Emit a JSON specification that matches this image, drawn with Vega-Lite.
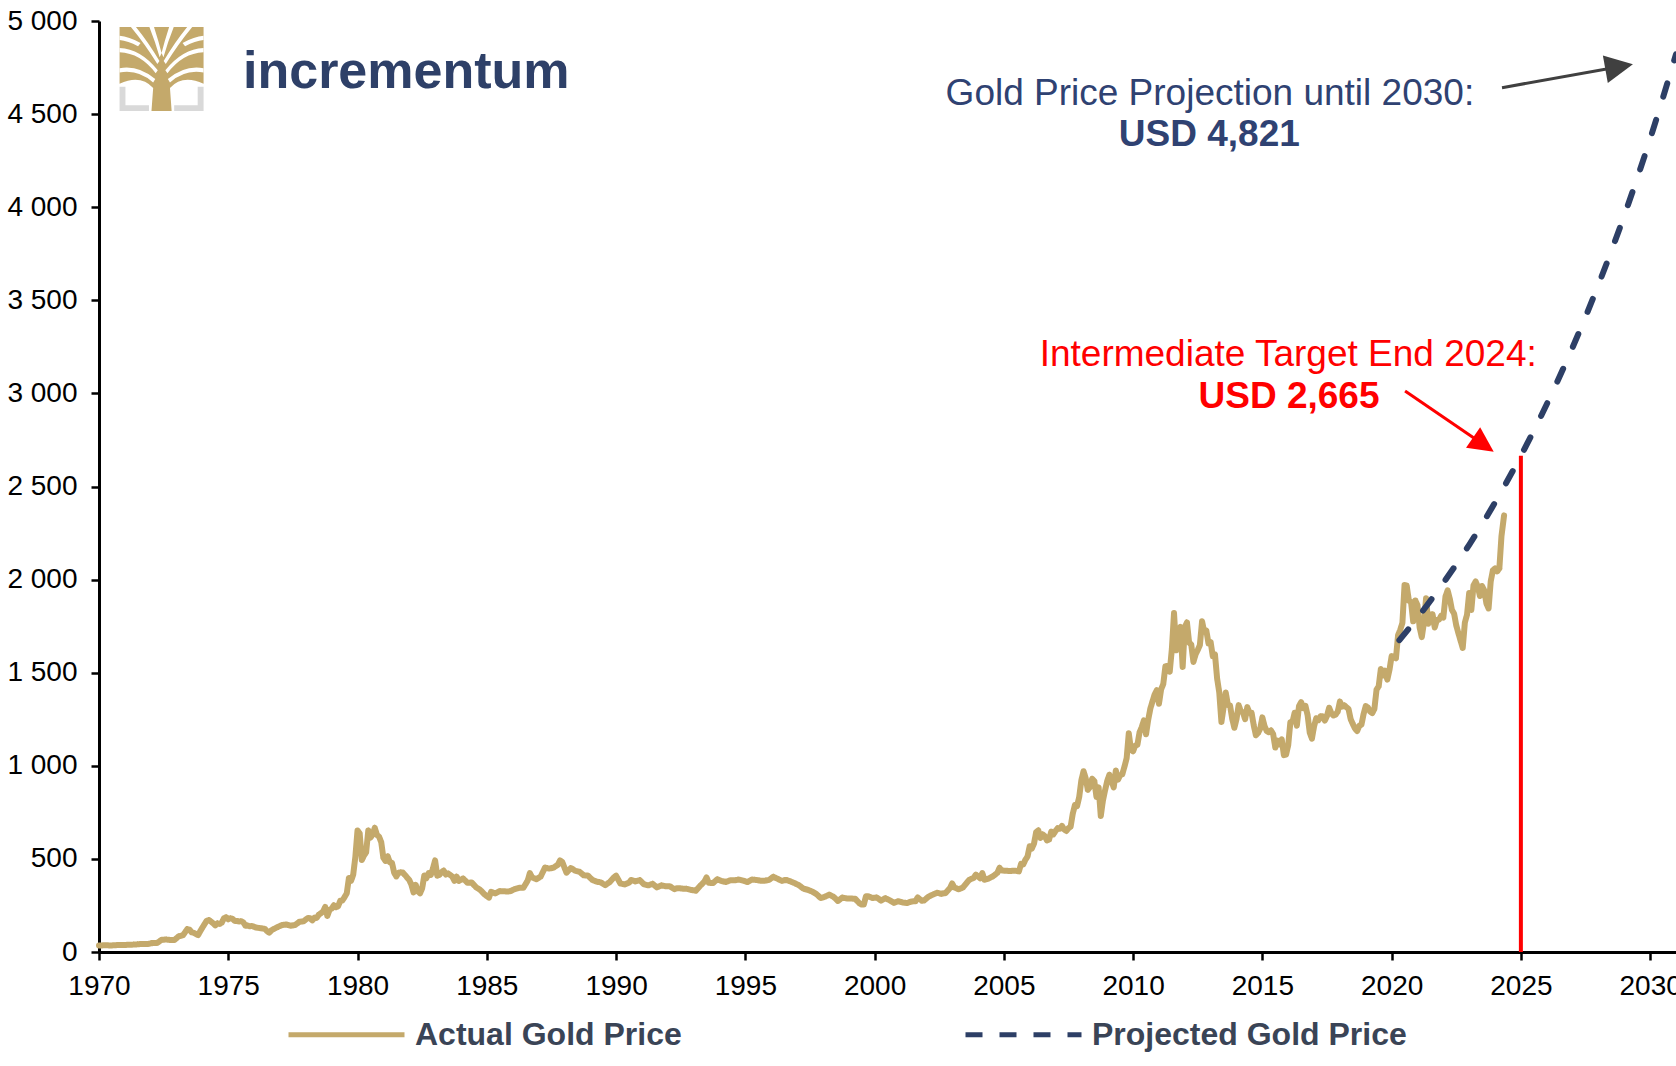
{
  "$schema": "https://vega.github.io/schema/vega-lite/v6.json",
  "width": 1577,
  "height": 931,
  "autosize": {"type": "none"},
  "padding": {"left": 99, "top": 21, "right": 0, "bottom": 114},
  "background": "white",
  "config": {
    "view": {"stroke": null},
    "font": "Liberation Sans",
    "axis": {
      "domainColor": "#000000",
      "domainWidth": 3,
      "tickColor": "#000000",
      "tickWidth": 2.5,
      "tickSize": 8,
      "labelFont": "Liberation Sans",
      "labelFontSize": 28,
      "labelColor": "#000000",
      "grid": false,
      "title": null
    }
  },
  "data": {"values": [{}]},
  "layer": [
    {
      "data": {"values": [
        {"t":1970,"p":35.2},{"t":1970.25,"p":35.9},{"t":1970.5,"p":35.3},{"t":1970.75,"p":37.5},{"t":1970.917,"p":37.4},
        {"t":1971.167,"p":38.9},{"t":1971.417,"p":40.1},{"t":1971.583,"p":42.7},{"t":1971.75,"p":42.5},{"t":1971.917,"p":43.6},
        {"t":1972.083,"p":48.3},{"t":1972.25,"p":49.0},{"t":1972.417,"p":65.1},{"t":1972.583,"p":67.0},{"t":1972.75,"p":64.9},{"t":1972.917,"p":64.9},
        {"t":1973.083,"p":84},{"t":1973.25,"p":90.5},{"t":1973.417,"p":123},{"t":1973.5,"p":120},{"t":1973.583,"p":106},{"t":1973.667,"p":103},{"t":1973.833,"p":90.8},{"t":1973.917,"p":112},
        {"t":1974.083,"p":150},{"t":1974.167,"p":168},{"t":1974.25,"p":172},{"t":1974.333,"p":163},{"t":1974.417,"p":154},{"t":1974.5,"p":143},{"t":1974.583,"p":154},{"t":1974.667,"p":151},{"t":1974.75,"p":158},{"t":1974.833,"p":181},{"t":1974.917,"p":186.5},
        {"t":1975,"p":176},{"t":1975.083,"p":181},{"t":1975.167,"p":178},{"t":1975.25,"p":167},{"t":1975.333,"p":167},{"t":1975.417,"p":164},{"t":1975.5,"p":165},{"t":1975.583,"p":159},{"t":1975.667,"p":141},{"t":1975.75,"p":142},{"t":1975.833,"p":138},{"t":1975.917,"p":140},
        {"t":1976.083,"p":131},{"t":1976.25,"p":128},{"t":1976.417,"p":124},{"t":1976.5,"p":112},{"t":1976.583,"p":104},{"t":1976.667,"p":116},{"t":1976.75,"p":123},{"t":1976.917,"p":134.5},
        {"t":1977.083,"p":145},{"t":1977.25,"p":148},{"t":1977.417,"p":141},{"t":1977.583,"p":145},{"t":1977.75,"p":162},{"t":1977.917,"p":165},
        {"t":1978,"p":175},{"t":1978.083,"p":183},{"t":1978.167,"p":181},{"t":1978.25,"p":170},{"t":1978.333,"p":184},{"t":1978.417,"p":183},{"t":1978.5,"p":200},{"t":1978.583,"p":208},{"t":1978.667,"p":217},{"t":1978.75,"p":242},{"t":1978.833,"p":194},{"t":1978.917,"p":226},
        {"t":1979,"p":233},{"t":1979.083,"p":251},{"t":1979.167,"p":240},{"t":1979.25,"p":246},{"t":1979.333,"p":275},{"t":1979.417,"p":277},{"t":1979.5,"p":295},{"t":1979.583,"p":315},{"t":1979.667,"p":397},{"t":1979.75,"p":382},{"t":1979.833,"p":415},{"t":1979.917,"p":512},
        {"t":1980,"p":653},{"t":1980.083,"p":637},{"t":1980.167,"p":494},{"t":1980.25,"p":518},{"t":1980.333,"p":535},{"t":1980.417,"p":653},{"t":1980.5,"p":614},{"t":1980.583,"p":631},{"t":1980.667,"p":667},{"t":1980.75,"p":629},{"t":1980.833,"p":619},{"t":1980.917,"p":590},
        {"t":1981,"p":506},{"t":1981.083,"p":489},{"t":1981.167,"p":514},{"t":1981.25,"p":482},{"t":1981.333,"p":479},{"t":1981.417,"p":426},{"t":1981.5,"p":406},{"t":1981.583,"p":425},{"t":1981.667,"p":428},{"t":1981.75,"p":427},{"t":1981.833,"p":414},{"t":1981.917,"p":400},
        {"t":1982,"p":387},{"t":1982.083,"p":362},{"t":1982.167,"p":320},{"t":1982.25,"p":361},{"t":1982.333,"p":326},{"t":1982.417,"p":315},{"t":1982.5,"p":342},{"t":1982.583,"p":411},{"t":1982.667,"p":397},{"t":1982.75,"p":423},{"t":1982.833,"p":414},{"t":1982.917,"p":448},
        {"t":1983,"p":492},{"t":1983.083,"p":410},{"t":1983.167,"p":414},{"t":1983.25,"p":429},{"t":1983.333,"p":437},{"t":1983.417,"p":416},{"t":1983.5,"p":422},{"t":1983.583,"p":414},{"t":1983.667,"p":405},{"t":1983.75,"p":382},{"t":1983.833,"p":405},{"t":1983.917,"p":382},
        {"t":1984.083,"p":395},{"t":1984.25,"p":372},{"t":1984.417,"p":373},{"t":1984.583,"p":348},{"t":1984.75,"p":333},{"t":1984.917,"p":309},
        {"t":1985.083,"p":292},{"t":1985.167,"p":323},{"t":1985.333,"p":315},{"t":1985.5,"p":327},{"t":1985.667,"p":326},{"t":1985.833,"p":325},{"t":1985.917,"p":327},
        {"t":1986.083,"p":338},{"t":1986.25,"p":345},{"t":1986.417,"p":345},{"t":1986.583,"p":384},{"t":1986.667,"p":424},{"t":1986.75,"p":401},{"t":1986.917,"p":391},
        {"t":1987.083,"p":405},{"t":1987.25,"p":453},{"t":1987.417,"p":448},{"t":1987.583,"p":453},{"t":1987.75,"p":469},{"t":1987.833,"p":492},{"t":1987.917,"p":484},
        {"t":1988.083,"p":426},{"t":1988.25,"p":451},{"t":1988.417,"p":437},{"t":1988.583,"p":431},{"t":1988.75,"p":412},{"t":1988.917,"p":410},
        {"t":1989.083,"p":387},{"t":1989.25,"p":378},{"t":1989.417,"p":373},{"t":1989.583,"p":359},{"t":1989.75,"p":375},{"t":1989.917,"p":401},
        {"t":1990,"p":410},{"t":1990.167,"p":368},{"t":1990.333,"p":363},{"t":1990.5,"p":372},{"t":1990.583,"p":387},{"t":1990.75,"p":379},{"t":1990.917,"p":386},
        {"t":1991.083,"p":363},{"t":1991.25,"p":358},{"t":1991.417,"p":366},{"t":1991.583,"p":347},{"t":1991.75,"p":358},{"t":1991.917,"p":353},
        {"t":1992.083,"p":353},{"t":1992.25,"p":338},{"t":1992.417,"p":343},{"t":1992.583,"p":340},{"t":1992.75,"p":339},{"t":1992.917,"p":333},
        {"t":1993.083,"p":329},{"t":1993.25,"p":355},{"t":1993.417,"p":378},{"t":1993.5,"p":401},{"t":1993.583,"p":372},{"t":1993.75,"p":370},{"t":1993.917,"p":391},
        {"t":1994.083,"p":381},{"t":1994.25,"p":376},{"t":1994.417,"p":385},{"t":1994.583,"p":385},{"t":1994.75,"p":389},{"t":1994.917,"p":383},
        {"t":1995.083,"p":376},{"t":1995.25,"p":389},{"t":1995.417,"p":387},{"t":1995.583,"p":383},{"t":1995.75,"p":383},{"t":1995.917,"p":387},
        {"t":1996.083,"p":404},{"t":1996.25,"p":393},{"t":1996.417,"p":382},{"t":1996.583,"p":387},{"t":1996.75,"p":379},{"t":1996.917,"p":369},
        {"t":1997.083,"p":358},{"t":1997.25,"p":340},{"t":1997.417,"p":334},{"t":1997.583,"p":325},{"t":1997.75,"p":311},{"t":1997.917,"p":290},
        {"t":1998.083,"p":297},{"t":1998.25,"p":308},{"t":1998.417,"p":296},{"t":1998.583,"p":274},{"t":1998.75,"p":292},{"t":1998.917,"p":288},
        {"t":1999.083,"p":287},{"t":1999.25,"p":286},{"t":1999.417,"p":261},{"t":1999.5,"p":255},{"t":1999.583,"p":255},{"t":1999.667,"p":299},{"t":1999.75,"p":300},{"t":1999.917,"p":290},
        {"t":2000.083,"p":293},{"t":2000.25,"p":276},{"t":2000.417,"p":289},{"t":2000.583,"p":278},{"t":2000.75,"p":264},{"t":2000.917,"p":273},
        {"t":2001.083,"p":266},{"t":2001.25,"p":263},{"t":2001.417,"p":271},{"t":2001.583,"p":273},{"t":2001.667,"p":293},{"t":2001.833,"p":275},{"t":2001.917,"p":277},
        {"t":2002.083,"p":297},{"t":2002.25,"p":308},{"t":2002.417,"p":318},{"t":2002.583,"p":312},{"t":2002.75,"p":317},{"t":2002.917,"p":343},
        {"t":2003,"p":368},{"t":2003.083,"p":347},{"t":2003.25,"p":337},{"t":2003.417,"p":346},{"t":2003.583,"p":375},{"t":2003.667,"p":388},{"t":2003.833,"p":398},{"t":2003.917,"p":416},
        {"t":2004.083,"p":396},{"t":2004.167,"p":424},{"t":2004.25,"p":388},{"t":2004.417,"p":395},{"t":2004.583,"p":407},{"t":2004.75,"p":425},{"t":2004.833,"p":452},{"t":2004.917,"p":438},
        {"t":2005.083,"p":436},{"t":2005.25,"p":435},{"t":2005.417,"p":437},{"t":2005.583,"p":433},{"t":2005.667,"p":473},{"t":2005.75,"p":470},{"t":2005.833,"p":495},{"t":2005.917,"p":513},
        {"t":2006,"p":568},{"t":2006.083,"p":556},{"t":2006.167,"p":582},{"t":2006.25,"p":644},{"t":2006.333,"p":653},{"t":2006.417,"p":613},{"t":2006.5,"p":632},{"t":2006.583,"p":623},{"t":2006.667,"p":599},{"t":2006.75,"p":604},{"t":2006.833,"p":646},{"t":2006.917,"p":632},
        {"t":2007,"p":650},{"t":2007.083,"p":665},{"t":2007.167,"p":662},{"t":2007.25,"p":677},{"t":2007.333,"p":659},{"t":2007.417,"p":650},{"t":2007.5,"p":665},{"t":2007.583,"p":673},{"t":2007.667,"p":743},{"t":2007.75,"p":789},{"t":2007.833,"p":783},{"t":2007.917,"p":834},
        {"t":2008,"p":923},{"t":2008.083,"p":971},{"t":2008.167,"p":933},{"t":2008.25,"p":871},{"t":2008.333,"p":886},{"t":2008.417,"p":930},{"t":2008.5,"p":918},{"t":2008.583,"p":833},{"t":2008.667,"p":884},{"t":2008.75,"p":730},{"t":2008.833,"p":814},{"t":2008.917,"p":869},
        {"t":2009,"p":919},{"t":2009.083,"p":952},{"t":2009.167,"p":916},{"t":2009.25,"p":884},{"t":2009.333,"p":975},{"t":2009.417,"p":926},{"t":2009.5,"p":949},{"t":2009.583,"p":955},{"t":2009.667,"p":996},{"t":2009.75,"p":1040},{"t":2009.833,"p":1175},{"t":2009.917,"p":1087},
        {"t":2010,"p":1078},{"t":2010.083,"p":1109},{"t":2010.167,"p":1113},{"t":2010.25,"p":1180},{"t":2010.333,"p":1207},{"t":2010.417,"p":1244},{"t":2010.5,"p":1169},{"t":2010.583,"p":1246},{"t":2010.667,"p":1307},{"t":2010.75,"p":1346},{"t":2010.833,"p":1383},{"t":2010.917,"p":1406},
        {"t":2011,"p":1333},{"t":2011.083,"p":1410},{"t":2011.167,"p":1439},{"t":2011.25,"p":1535},{"t":2011.333,"p":1536},{"t":2011.417,"p":1505},{"t":2011.5,"p":1628},{"t":2011.583,"p":1820},{"t":2011.667,"p":1620},{"t":2011.75,"p":1722},{"t":2011.833,"p":1746},{"t":2011.917,"p":1531},
        {"t":2012,"p":1744},{"t":2012.083,"p":1770},{"t":2012.167,"p":1662},{"t":2012.25,"p":1651},{"t":2012.333,"p":1558},{"t":2012.417,"p":1598},{"t":2012.5,"p":1622},{"t":2012.583,"p":1648},{"t":2012.667,"p":1776},{"t":2012.75,"p":1720},{"t":2012.833,"p":1726},{"t":2012.917,"p":1657},
        {"t":2013,"p":1664},{"t":2013.083,"p":1588},{"t":2013.167,"p":1598},{"t":2013.25,"p":1469},{"t":2013.333,"p":1394},{"t":2013.417,"p":1235},{"t":2013.5,"p":1314},{"t":2013.583,"p":1394},{"t":2013.667,"p":1326},{"t":2013.75,"p":1324},{"t":2013.833,"p":1253},{"t":2013.917,"p":1204},
        {"t":2014,"p":1251},{"t":2014.083,"p":1326},{"t":2014.167,"p":1292},{"t":2014.25,"p":1288},{"t":2014.333,"p":1250},{"t":2014.417,"p":1315},{"t":2014.5,"p":1285},{"t":2014.583,"p":1285},{"t":2014.667,"p":1217},{"t":2014.75,"p":1164},{"t":2014.833,"p":1176},{"t":2014.917,"p":1199},
        {"t":2015,"p":1260},{"t":2015.083,"p":1214},{"t":2015.167,"p":1187},{"t":2015.25,"p":1180},{"t":2015.333,"p":1190},{"t":2015.417,"p":1171},{"t":2015.5,"p":1098},{"t":2015.583,"p":1135},{"t":2015.667,"p":1115},{"t":2015.75,"p":1142},{"t":2015.833,"p":1057},{"t":2015.917,"p":1060},
        {"t":2016,"p":1111},{"t":2016.083,"p":1234},{"t":2016.167,"p":1237},{"t":2016.25,"p":1285},{"t":2016.333,"p":1215},{"t":2016.417,"p":1320},{"t":2016.5,"p":1342},{"t":2016.583,"p":1309},{"t":2016.667,"p":1322},{"t":2016.75,"p":1272},{"t":2016.833,"p":1178},{"t":2016.917,"p":1146},
        {"t":2017,"p":1212},{"t":2017.083,"p":1255},{"t":2017.167,"p":1245},{"t":2017.25,"p":1266},{"t":2017.333,"p":1266},{"t":2017.417,"p":1243},{"t":2017.5,"p":1268},{"t":2017.583,"p":1312},{"t":2017.667,"p":1283},{"t":2017.75,"p":1270},{"t":2017.833,"p":1275},{"t":2017.917,"p":1291},
        {"t":2018,"p":1345},{"t":2018.083,"p":1318},{"t":2018.167,"p":1325},{"t":2018.25,"p":1315},{"t":2018.333,"p":1305},{"t":2018.417,"p":1250},{"t":2018.5,"p":1224},{"t":2018.583,"p":1200},{"t":2018.667,"p":1187},{"t":2018.75,"p":1215},{"t":2018.833,"p":1221},{"t":2018.917,"p":1279},
        {"t":2019,"p":1321},{"t":2019.083,"p":1313},{"t":2019.167,"p":1292},{"t":2019.25,"p":1283},{"t":2019.333,"p":1305},{"t":2019.417,"p":1409},{"t":2019.5,"p":1427},{"t":2019.583,"p":1520},{"t":2019.667,"p":1485},{"t":2019.75,"p":1511},{"t":2019.833,"p":1463},{"t":2019.917,"p":1515},
        {"t":2020,"p":1589},{"t":2020.083,"p":1585},{"t":2020.167,"p":1577},{"t":2020.25,"p":1702},{"t":2020.333,"p":1730},{"t":2020.417,"p":1768},{"t":2020.5,"p":1971},{"t":2020.583,"p":1968},{"t":2020.667,"p":1887},{"t":2020.75,"p":1880},{"t":2020.833,"p":1776},{"t":2020.917,"p":1888},
        {"t":2021,"p":1863},{"t":2021.083,"p":1743},{"t":2021.167,"p":1691},{"t":2021.25,"p":1768},{"t":2021.333,"p":1900},{"t":2021.417,"p":1763},{"t":2021.5,"p":1812},{"t":2021.583,"p":1814},{"t":2021.667,"p":1743},{"t":2021.75,"p":1783},{"t":2021.833,"p":1785},{"t":2021.917,"p":1806},
        {"t":2022,"p":1796},{"t":2022.083,"p":1909},{"t":2022.167,"p":1942},{"t":2022.25,"p":1897},{"t":2022.333,"p":1837},{"t":2022.417,"p":1817},{"t":2022.5,"p":1754},{"t":2022.583,"p":1712},{"t":2022.667,"p":1672},{"t":2022.75,"p":1633},{"t":2022.833,"p":1769},{"t":2022.917,"p":1812},
        {"t":2023,"p":1928},{"t":2023.083,"p":1837},{"t":2023.167,"p":1969},{"t":2023.25,"p":1990},{"t":2023.333,"p":1962},{"t":2023.417,"p":1912},{"t":2023.5,"p":1965},{"t":2023.583,"p":1942},{"t":2023.667,"p":1871},{"t":2023.75,"p":1845},{"t":2023.833,"p":1990},{"t":2023.917,"p":2050},
        {"t":2024,"p":2060},{"t":2024.083,"p":2044},{"t":2024.167,"p":2060},{"t":2024.25,"p":2235},{"t":2024.35,"p":2345}
      ]},
      "mark": {"type": "line", "strokeWidth": 6, "strokeJoin": "round", "strokeCap": "round"},
      "encoding": {
        "x": {
          "field": "t", "type": "quantitative",
          "scale": {"domain": [1970, 2031], "nice": false, "zero": false},
          "axis": {"values": [1970,1975,1980,1985,1990,1995,2000,2005,2010,2015,2020,2025,2030], "format": "d", "labelPadding": 12, "labelFlush": false, "labelOverlap": false, "title": null}
        },
        "y": {
          "field": "p", "type": "quantitative",
          "scale": {"domain": [0, 5000], "nice": false, "zero": true},
          "axis": {"values": [0,500,1000,1500,2000,2500,3000,3500,4000,4500,5000], "labelExpr": "replace(format(datum.value, ','), ',', ' ')", "labelPadding": 14, "title": null}
        },
        "color": {
          "datum": "Actual Gold Price", "type": "nominal",
          "scale": {"domain": ["Actual Gold Price", "Projected Gold Price"], "range": ["#C4A96B", "#2D3F66"]},
          "legend": {"title": null, "orient": "none", "legendX": 187, "legendY": 953, "direction": "horizontal", "columns": 2, "gridAlign": "each", "columnPadding": 273, "symbolType": "stroke", "symbolSize": 13456, "symbolStrokeWidth": 5, "labelFont": "Liberation Sans", "labelFontWeight": "bold", "labelFontSize": 32, "labelColor": "#3A4456", "labelOffset": 8, "labelLimit": 600, "padding": 0}
        },
        "strokeDash": {
          "datum": "Actual Gold Price", "type": "nominal",
          "scale": {"domain": ["Actual Gold Price", "Projected Gold Price"], "range": [[1, 0], [17, 17]]},
          "legend": {"title": null, "orient": "none", "legendX": 187, "legendY": 953, "direction": "horizontal", "columns": 2, "gridAlign": "each", "columnPadding": 273, "symbolType": "stroke", "symbolSize": 13456, "symbolStrokeWidth": 5, "labelFont": "Liberation Sans", "labelFontWeight": "bold", "labelFontSize": 32, "labelColor": "#3A4456", "labelOffset": 8, "labelLimit": 600, "padding": 0}
        }
      }
    },
    {
      "data": {"values": [
        {"t":2020.3,"p":1675},{"t":2021,"p":1795},{"t":2022,"p":1982},{"t":2023,"p":2187},{"t":2024,"p":2414},{"t":2025,"p":2665},
        {"t":2026,"p":2942},{"t":2027,"p":3247},{"t":2028,"p":3584},{"t":2029,"p":3956},{"t":2030,"p":4367},{"t":2031,"p":4821}
      ]},
      "mark": {"type": "line", "strokeWidth": 6, "strokeCap": "round", "strokeDash": [14, 24], "interpolate": "monotone"},
      "encoding": {
        "x": {"field": "t", "type": "quantitative"},
        "y": {"field": "p", "type": "quantitative"},
        "color": {"datum": "Projected Gold Price", "type": "nominal", "legend": null}
      }
    },
    {
      "mark": {"type": "point", "shape": "M-1,0.42L-0.86,0.42L-0.86,0.86L-0.3,0.86L-0.3,1L-1,1Z M1,0.42L1,1L0.3,1L0.3,0.86L0.86,0.86L0.86,0.42Z", "size": 7056, "filled": true, "fill": "#D9D9D9", "strokeWidth": 0, "opacity": 1},
      "encoding": {
        "x": {"datum": 1972.42, "type": "quantitative"},
        "y": {"datum": 4742, "type": "quantitative"}
      }
    },
    {
      "mark": {"type": "point", "shape": "M-1,-1L1,-1L1,0.35Q0.5,0.12 0.2,0.45L0.24,1L-0.24,1L-0.2,0.45Q-0.5,0.12 -1,0.35Z", "size": 7056, "filled": true, "fill": "#C4A96B", "strokeWidth": 0, "opacity": 1},
      "encoding": {
        "x": {"datum": 1972.42, "type": "quantitative"},
        "y": {"datum": 4742, "type": "quantitative"}
      }
    },
    {
      "mark": {"type": "point", "shape": "M-0.2,0.32Q-0.55,0.0 -1,0.08L-1,-0.02Q-0.55,-0.1 -0.15,0.24Z M-0.14,0.1Q-0.5,-0.38 -1,-0.4L-1,-0.5Q-0.5,-0.48 -0.09,0.03Z M-0.1,-0.12Q-0.4,-0.6 -0.73,-1L-0.61,-1Q-0.31,-0.63 -0.05,-0.19Z M-0.045,-0.28Q-0.15,-0.65 -0.29,-1L-0.18,-1Q-0.07,-0.66 0.0,-0.38Z M-0.56,-0.54Q-0.8,-0.67 -1,-0.69L-1,-0.79Q-0.78,-0.77 -0.5,-0.62Z M0.2,0.32Q0.55,0.0 1,0.08L1,-0.02Q0.55,-0.1 0.15,0.24Z M0.14,0.1Q0.5,-0.38 1,-0.4L1,-0.5Q0.5,-0.48 0.09,0.03Z M0.1,-0.12Q0.4,-0.6 0.73,-1L0.61,-1Q0.31,-0.63 0.05,-0.19Z M0.045,-0.28Q0.15,-0.65 0.29,-1L0.18,-1Q0.07,-0.66 0.0,-0.38Z M0.56,-0.54Q0.8,-0.67 1,-0.69L1,-0.79Q0.78,-0.77 0.5,-0.62Z", "size": 7056, "filled": true, "fill": "#FFFFFF", "strokeWidth": 0, "opacity": 1},
      "encoding": {
        "x": {"datum": 1972.42, "type": "quantitative"},
        "y": {"datum": 4742, "type": "quantitative"}
      }
    },
    {
      "mark": {"type": "text", "text": "incrementum", "font": "Liberation Sans", "fontWeight": "bold", "fontSize": 52, "fill": "#2E4068", "align": "left", "baseline": "alphabetic"},
      "encoding": {
        "x": {"datum": 1975.57, "type": "quantitative"},
        "y": {"datum": 4642, "type": "quantitative"}
      }
    },
    {
      "mark": {"type": "rule", "stroke": "#FF0000", "strokeWidth": 4},
      "encoding": {
        "x": {"datum": 2025, "type": "quantitative"},
        "y": {"datum": 0, "type": "quantitative"},
        "y2": {"datum": 2665}
      }
    },
    {
      "mark": {"type": "rule", "stroke": "#404040", "strokeWidth": 3},
      "encoding": {
        "x": {"datum": 2024.27, "type": "quantitative"},
        "y": {"datum": 4642, "type": "quantitative"},
        "x2": {"datum": 2028.8},
        "y2": {"datum": 4754}
      }
    },
    {
      "mark": {"type": "point", "shape": "M1,0L-1,-1L-1,1Z", "size": 784, "angle": 349.9, "filled": true, "fill": "#404040", "strokeWidth": 0, "opacity": 1},
      "encoding": {
        "x": {"datum": 2028.8, "type": "quantitative"},
        "y": {"datum": 4754, "type": "quantitative"}
      }
    },
    {
      "mark": {"type": "rule", "stroke": "#FF0000", "strokeWidth": 3},
      "encoding": {
        "x": {"datum": 2020.52, "type": "quantitative"},
        "y": {"datum": 3013, "type": "quantitative"},
        "x2": {"datum": 2023.55},
        "y2": {"datum": 2725}
      }
    },
    {
      "mark": {"type": "point", "shape": "M1,0L-1,-1L-1,1Z", "size": 625, "angle": 34.4, "filled": true, "fill": "#FF0000", "strokeWidth": 0, "opacity": 1},
      "encoding": {
        "x": {"datum": 2023.55, "type": "quantitative"},
        "y": {"datum": 2725, "type": "quantitative"}
      }
    },
    {
      "mark": {"type": "text", "text": "Gold Price Projection until 2030:", "font": "Liberation Sans", "fontSize": 37, "fill": "#2F4272", "align": "center", "baseline": "alphabetic"},
      "encoding": {
        "x": {"datum": 2012.97, "type": "quantitative"},
        "y": {"datum": 4549, "type": "quantitative"}
      }
    },
    {
      "mark": {"type": "text", "text": "USD 4,821", "font": "Liberation Sans", "fontWeight": "bold", "fontSize": 37, "fill": "#2F4272", "align": "center", "baseline": "alphabetic"},
      "encoding": {
        "x": {"datum": 2012.95, "type": "quantitative"},
        "y": {"datum": 4329, "type": "quantitative"}
      }
    },
    {
      "mark": {"type": "text", "text": "Intermediate Target End 2024:", "font": "Liberation Sans", "fontSize": 37, "fill": "#FF0000", "align": "center", "baseline": "alphabetic"},
      "encoding": {
        "x": {"datum": 2016.0, "type": "quantitative"},
        "y": {"datum": 3147, "type": "quantitative"}
      }
    },
    {
      "mark": {"type": "text", "text": "USD 2,665", "font": "Liberation Sans", "fontWeight": "bold", "fontSize": 37, "fill": "#FF0000", "align": "center", "baseline": "alphabetic"},
      "encoding": {
        "x": {"datum": 2016.03, "type": "quantitative"},
        "y": {"datum": 2922, "type": "quantitative"}
      }
    }
  ]
}
